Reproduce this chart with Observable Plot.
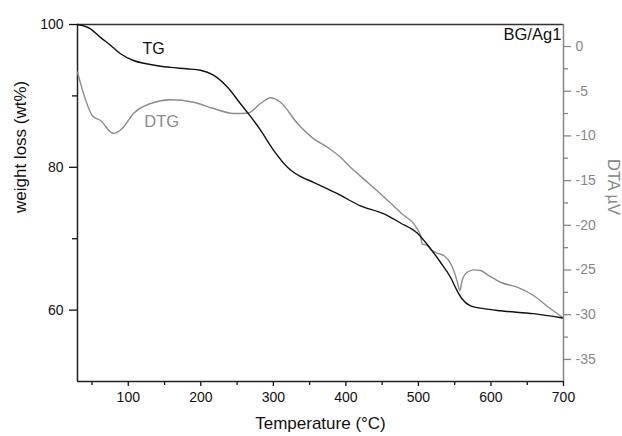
<!DOCTYPE html>
<html>
<head>
<meta charset="utf-8">
<script src="https://cdn.jsdelivr.net/npm/d3@7"></script>
<script src="https://cdn.jsdelivr.net/npm/@observablehq/plot@0.6"></script>
<style>
  html, body { margin: 0; padding: 0; background: #fff; }
</style>
</head>
<body>
<div id="chart"></div>
<script>
// TG curve: temperature (°C) and weight (wt%)
const tgTemp   = [30, 47.9, 61.7, 75.5, 89.3, 107, 125, 144.4, 158, 180, 199.6, 217.4, 236.8, 254.7, 268, 282.3, 300.2, 319.5, 327.8, 340, 355.3, 388.4, 420.1, 451.8, 475.3, 498.3, 516.6, 530.4, 544.2, 553.4, 560.3, 571.7, 590.1, 613.1, 658.6, 698.6];
const tgWeight = [100, 99.4, 98.2, 97.1, 95.9, 94.96, 94.5, 94.16, 94.0, 93.8, 93.6, 92.9, 91.2, 88.9, 87.2, 85.2, 82.4, 80.0, 79.3, 78.6, 77.9, 76.3, 74.6, 73.5, 72.2, 70.8, 68.6, 66.7, 64.6, 62.7, 61.55, 60.6, 60.2, 59.9, 59.5, 58.9];

// DTG curve: temperature (°C) and DTA signal (µV)
const dtgTemp   = [30, 38.3, 50.3, 61.7, 79.6, 91.6, 107.2, 130.6, 158.2, 189.9, 217.5, 245, 264.4, 282.3, 296.1, 309.8, 333.3, 355.3, 375, 392.6, 406.3, 420.1, 451.8, 475.3, 498.3, 502.8, 505.2, 512.1, 519, 525.9, 535, 541.9, 548.7, 554.3, 557, 560.3, 567.2, 576.3, 585.6, 597, 613.1, 636.1, 658.6, 682, 698.2];
const dtgSignal = [-2.87, -5.26, -7.72, -8.28, -9.73, -9.17, -7.49, -6.38, -5.96, -6.23, -6.94, -7.49, -7.46, -6.38, -5.74, -6.23, -8.61, -10.3, -11.3, -12.38, -13.5, -14.5, -16.78, -18.57, -20.4, -21.14, -22.07, -22.26, -22.82, -23.12, -23.38, -23.94, -25.06, -26.54, -27.29, -26.17, -25.25, -24.98, -25.06, -25.62, -26.37, -26.92, -27.85, -29.34, -30.28];

// Axis ticks
const xMajorTicks = [100, 200, 300, 400, 500, 600, 700];
const xMinorTicks = [50, 150, 250, 350, 450, 550, 650];
const leftMajorTicks = [60, 80, 100];
const leftMinorTicks = [70, 90];
const rightMajorTicks = [0, -5, -10, -15, -20, -25, -30, -35];
const rightMinorTicks = [-2.5, -7.5, -12.5, -17.5, -22.5, -27.5, -32.5];

// Domains
const xDomain = [30, 700];
const leftDomain = [50, 100];
const rightDomain = [-37.47, 2.46];

const toLeft = d => leftDomain[0] + (d - rightDomain[0]) * (leftDomain[1] - leftDomain[0]) / (rightDomain[1] - rightDomain[0]);
const fromLeft = v => rightDomain[0] + (v - leftDomain[0]) * (rightDomain[1] - rightDomain[0]) / (leftDomain[1] - leftDomain[0]);

const tg = tgTemp.map((t, i) => ({T: t, v: tgWeight[i]}));
const dtg = dtgTemp.map((t, i) => ({T: t, v: dtgSignal[i]}));

const GRAY = "#878787";
const font = "'Liberation Sans', Arial, sans-serif";

const chart = Plot.plot({
  width: 622,
  height: 436,
  marginLeft: 77,
  marginRight: 59,
  marginTop: 24,
  marginBottom: 55,
  style: {fontFamily: font, fontSize: "14px", background: "#fff", color: "#111"},
  x: {domain: xDomain},
  y: {domain: leftDomain},
  marks: [
    // bottom axis
    Plot.axisX({ticks: xMajorTicks, tickSize: 5, tickPadding: 6, label: null, fontSize: 14, strokeWidth: 1.3}),
    Plot.axisX({ticks: xMinorTicks, tickSize: 4, tickFormat: () => "", label: null, strokeWidth: 1.3}),
    // left axis
    Plot.axisY({ticks: leftMajorTicks, tickSize: 8, tickPadding: 6, label: null, fontSize: 14, strokeWidth: 1.3}),
    Plot.axisY({ticks: leftMinorTicks, tickSize: 5, tickFormat: () => "", label: null, strokeWidth: 1.3}),
    // right axis (DTA)
    Plot.axisY({anchor: "right", ticks: rightMajorTicks.map(toLeft), tickFormat: v => String(Math.round(fromLeft(v))), tickSize: 7, tickPadding: 5, label: null, color: GRAY, fontSize: 14, strokeWidth: 1.3}),
    Plot.axisY({anchor: "right", ticks: rightMinorTicks.map(toLeft), tickFormat: () => "", tickSize: 4, label: null, color: GRAY, strokeWidth: 1.3}),
    // frame
    Plot.ruleY([leftDomain[1]], {stroke: "#333", strokeWidth: 1.3}),
    Plot.ruleY([leftDomain[0]], {stroke: "#222", strokeWidth: 1.5}),
    Plot.ruleX([xDomain[0]], {stroke: "#222", strokeWidth: 1.5}),
    Plot.ruleX([xDomain[1]], {stroke: GRAY, strokeWidth: 1.5}),
    // curves
    Plot.line(dtg, {x: "T", y: d => toLeft(d.v), stroke: "#8c8c8c", strokeWidth: 1.4, curve: "monotone-x"}),
    Plot.line(tg, {x: "T", y: "v", stroke: "#111", strokeWidth: 1.4, curve: "monotone-x"}),
    // annotations
    Plot.text(["TG"], {x: 135, y: 96.6, text: d => d, fill: "#111", fontSize: 16}),
    Plot.text(["DTG"], {x: 146, y: 86.4, text: d => d, fill: "#8c8c8c", fontSize: 16.5}),
    Plot.text(["BG/Ag1"], {x: 697, y: 98.5, text: d => d, fill: "#111", fontSize: 16.5, textAnchor: "end"}),
    // axis titles
    Plot.text(["Temperature (°C)"], {frameAnchor: "bottom", text: d => d, dy: 47, fontSize: 17, fill: "#111"}),
    Plot.text(["weight loss (wt%)"], {frameAnchor: "left", text: d => d, dx: -57, dy: 10, rotate: -90, fontSize: 17, fill: "#111"}),
    Plot.text(["DTA µV"], {frameAnchor: "right", text: d => d, dx: 50, dy: 12, rotate: 90, fontSize: 16.5, fill: GRAY})
  ]
});

document.getElementById("chart").appendChild(chart);
</script>
</body>
</html>
